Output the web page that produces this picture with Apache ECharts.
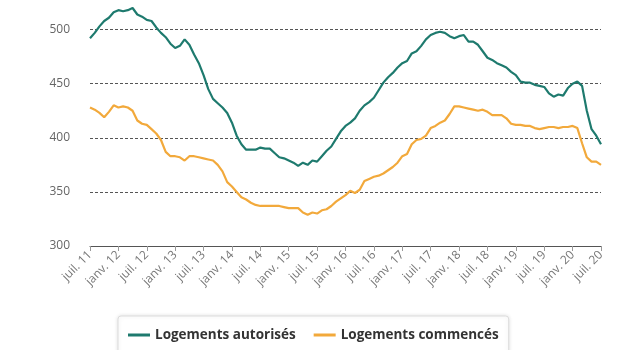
<!DOCTYPE html>
<html><head><meta charset="utf-8">
<script src="https://cdn.jsdelivr.net/npm/echarts@6/dist/echarts.min.js"></script>
<style>html,body{margin:0;padding:0;background:#fff}#c{width:620px;height:350px}</style>
</head><body><div id="c"></div>
<script>
var monthNames = ['janv.','févr.','mars','avr.','mai','juin','juil.','août','sept.','oct.','nov.','déc.'];
var startYear = 2011, startMonth = 6, monthCount = 109;
var categories = [];
for (var i = 0; i < monthCount; i++) {
  var mi = (startMonth + i) % 12;
  var yy = startYear + Math.floor((startMonth + i) / 12);
  categories.push(monthNames[mi] + ' ' + String(yy).slice(2));
}
var seriesNames = ['Logements autorisés', 'Logements commencés'];
var autorises = [
  492,497,503,508,511,516,518,517,518,520,514,512,509,508,502,497,493,487,483,485,
  491,486,477,469,458,445,436,432,428,423,414,402,394,389,389,389,391,390,390,386,
  382,381,379,377,374,377,375,379,378,383,388,392,399,406,411,414,418,425,430,433,
  437,444,451,456,460,465,469,471,478,480,485,491,495,497,498,497,494,492,494,495,
  489,489,486,480,474,472,469,467,465,461,458,452,451,451,449,448,447,441,438,440,
  439,446,450,452,448,425,408,402,394
];
var commences = [
  428,426,423,419,424,430,428,429,428,425,416,413,412,408,404,398,387,383,383,382,
  379,383,383,382,381,380,379,375,369,359,355,350,345,343,340,338,337,337,337,337,
  337,336,335,335,335,331,329,331,330,333,334,337,341,344,347,351,349,352,360,362,
  364,365,367,370,373,377,383,385,394,398,399,402,409,411,414,416,422,429,429,428,
  427,426,425,426,424,421,421,421,418,413,412,412,411,411,409,408,409,410,410,409,
  410,410,411,409,395,382,378,378,375
];
var yTicks = [300, 350, 400, 450, 500];
var colors = ['#1e7a6e', '#f2a93b'];
var font = '"Open Sans", "Noto Sans", sans-serif';

var chart = echarts.init(document.getElementById('c'));
chart.setOption({
  animation: false,
  color: colors,
  grid: { left: 90, right: 19, top: 8, bottom: 104 },
  legend: {
    bottom: -6, left: 118,
    itemWidth: 22, itemHeight: 3, itemGap: 18,
    icon: 'rect',
    padding: [12, 10, 14, 10],
    borderColor: '#dcdcdc', borderWidth: 1, borderRadius: 3,
    shadowColor: 'rgba(0,0,0,0.12)', shadowBlur: 4,
    backgroundColor: '#fff',
    textStyle: { fontFamily: font, fontSize: 13.5, fontWeight: 'bold', color: '#333' },
    data: seriesNames
  },
  xAxis: {
    type: 'category', data: categories, boundaryGap: false,
    axisLine: { lineStyle: { color: '#555', width: 1 } },
    axisTick: { interval: 5, length: 5, lineStyle: { color: '#999' } },
    axisLabel: { interval: 5, rotate: 45, color: '#777', fontFamily: font, fontSize: 12, margin: 7 }
  },
  yAxis: {
    type: 'value', min: 300, max: 520, interval: 50,
    axisLine: { show: false }, axisTick: { show: false },
    axisLabel: {
      showMaxLabel: false, color: '#666', fontFamily: font, fontSize: 12, margin: 20,
      formatter: function (v) { return yTicks.indexOf(v) >= 0 ? String(v) : ''; }
    },
    splitLine: { showMaxLine: false, lineStyle: { color: '#555', type: [3, 2], width: 1 } }
  },
  series: [
    { name: seriesNames[0], type: 'line', data: autorises, showSymbol: false, lineStyle: { width: 2.2 }, z: 3 },
    { name: seriesNames[1], type: 'line', data: commences, showSymbol: false, lineStyle: { width: 2.2 }, z: 2 }
  ]
});
</script>
</body></html>
